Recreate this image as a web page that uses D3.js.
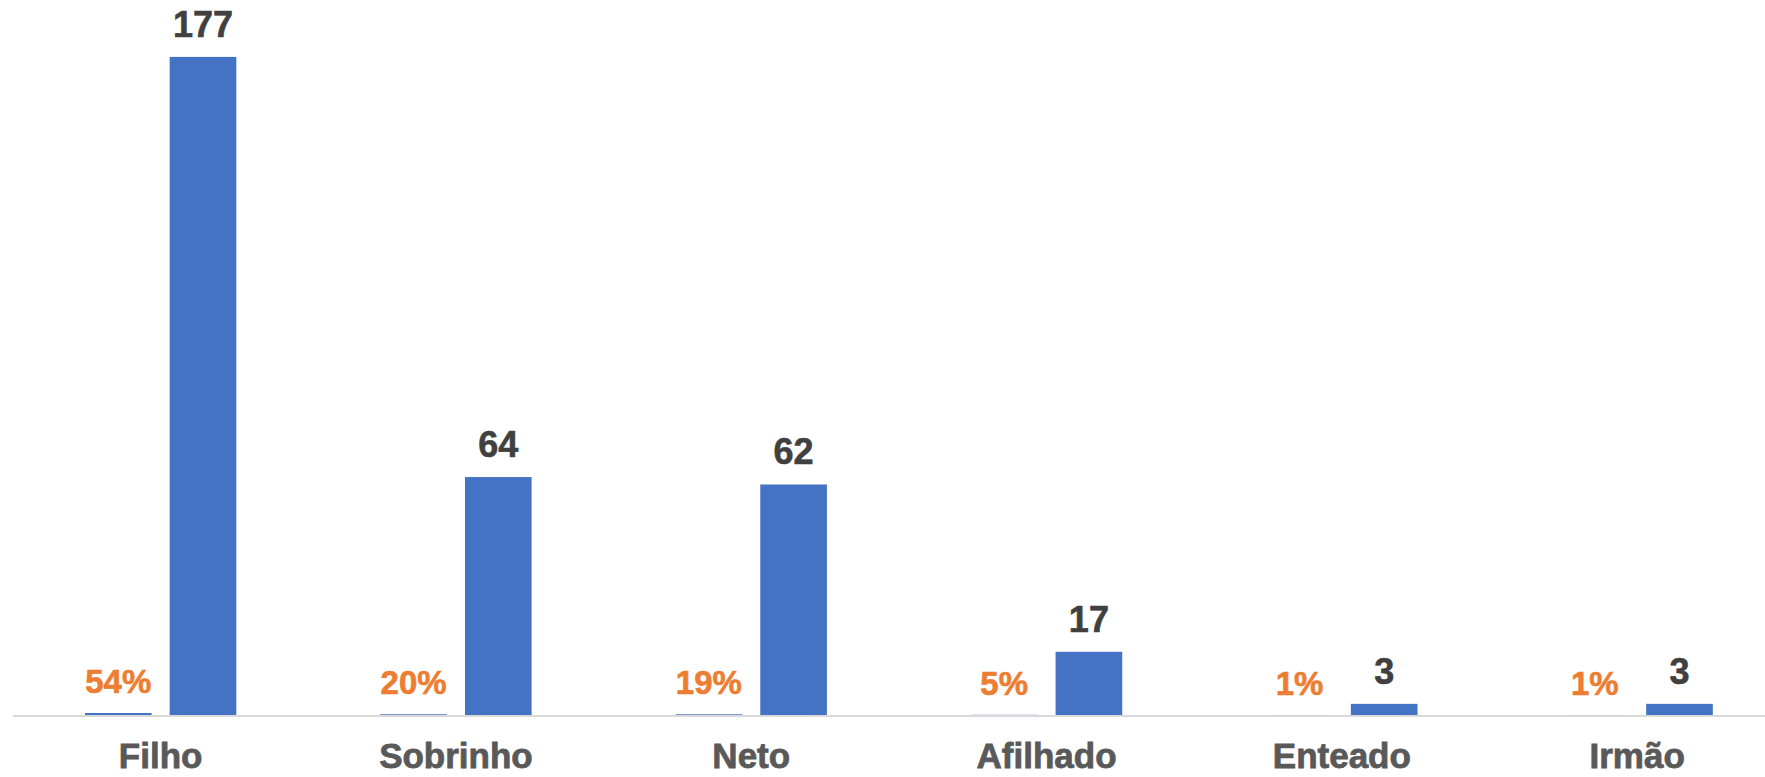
<!DOCTYPE html>
<html>
<head>
<meta charset="utf-8">
<script src="https://cdn.jsdelivr.net/npm/d3@7"></script>
<style>
  body { margin: 0; background: #ffffff; }
  text { font-family: "Liberation Sans", Arial, sans-serif; font-weight: bold; }
</style>
</head>
<body>
<script>
// Chart data
const categories = ["Filho", "Sobrinho", "Neto", "Afilhado", "Enteado", "Irmão"];
const shares = [0.54, 0.20, 0.19, 0.05, 0.01, 0.01];
const counts = [177, 64, 62, 17, 3, 3];
const shareLabels = ["54%", "20%", "19%", "5%", "1%", "1%"];

const width = 1765, height = 777;
const baseY = 715;

const svg = d3.select("body").append("svg")
    .attr("width", width)
    .attr("height", height);

// Outer scale: one band per category
const x0 = d3.scaleBand()
    .domain(categories)
    .range([13, 13 + 6 * 295.3])
    .padding(0);

// Inner scale: the two series inside a band
const x1 = d3.scaleBand()
    .domain(["share", "count"])
    .range([0, x0.bandwidth()])
    .paddingInner(0.213)
    .paddingOuter(0.85);

const y = d3.scaleLinear()
    .domain([0, 180])
    .range([baseY, baseY - 180 * 3.718]);

const rows = categories.map(function(c, i) {
    return {cat: c, share: shares[i], count: counts[i], label: shareLabels[i]};
});

// Axis line
svg.append("line")
    .attr("x1", 13).attr("x2", width)
    .attr("y1", baseY + 1).attr("y2", baseY + 1)
    .attr("stroke", "#d9d9d9")
    .attr("stroke-width", 2);

const groups = svg.selectAll(".cat")
    .data(rows)
    .enter().append("g")
    .attr("class", "cat")
    .attr("transform", function(d) { return "translate(" + x0(d.cat) + ",0)"; });

// Percentage bars (tiny, same axis)
groups.append("rect")
    .attr("x", x1("share"))
    .attr("width", x1.bandwidth())
    .attr("y", function(d) { return y(d.share); })
    .attr("height", function(d) { return baseY - y(d.share); })
    .attr("fill", "#4472c4");

// Count bars
groups.append("rect")
    .attr("x", x1("count"))
    .attr("width", x1.bandwidth())
    .attr("y", function(d) { return y(d.count); })
    .attr("height", function(d) { return baseY - y(d.count); })
    .attr("fill", "#4472c4");

// Percentage labels
groups.append("text")
    .attr("x", x1("share") + x1.bandwidth() / 2)
    .attr("y", function(d) { return y(d.share) - 20; })
    .attr("text-anchor", "middle")
    .style("font-size", "33px")
    .attr("fill", "#ed7d31")
    .attr("stroke", "#ed7d31")
    .attr("stroke-width", 0.6)
    .text(function(d) { return d.label; });

// Count labels
groups.append("text")
    .attr("x", x1("count") + x1.bandwidth() / 2)
    .attr("y", function(d) { return y(d.count) - 20; })
    .attr("text-anchor", "middle")
    .style("font-size", "36px")
    .attr("fill", "#404040")
    .attr("stroke", "#404040")
    .attr("stroke-width", 0.6)
    .text(function(d) { return d.count; });

// Category labels
groups.append("text")
    .attr("x", x0.bandwidth() / 2)
    .attr("y", 768)
    .attr("text-anchor", "middle")
    .style("font-size", "35px")
    .attr("fill", "#595959")
    .attr("stroke", "#595959")
    .attr("stroke-width", 0.8)
    .text(function(d) { return d.cat; });
</script>
</body>
</html>
